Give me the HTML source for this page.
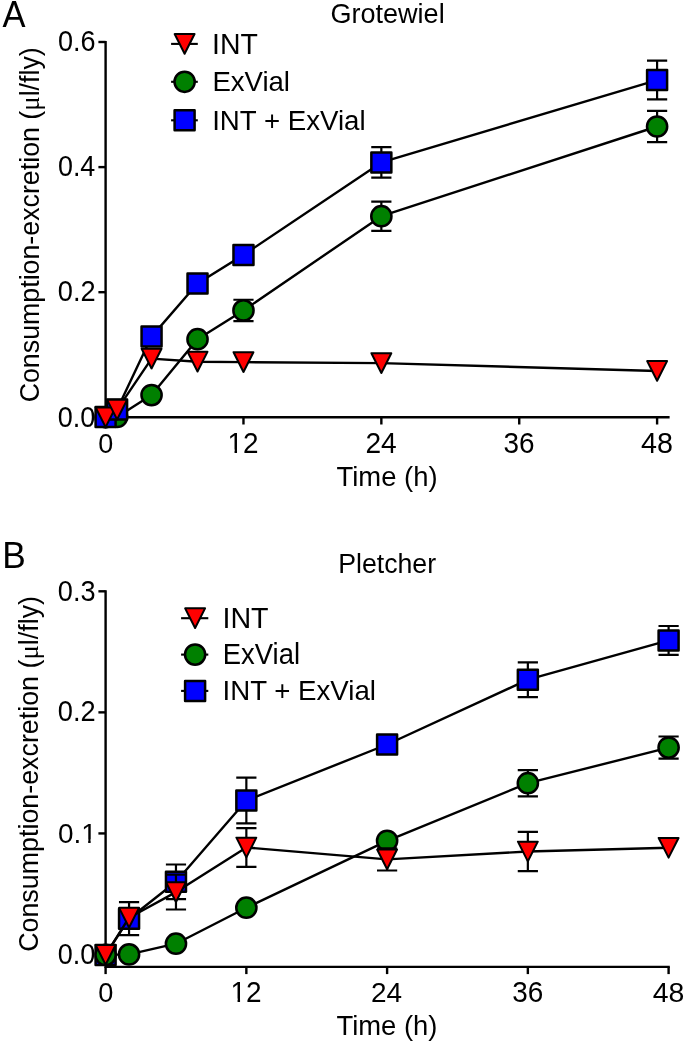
<!DOCTYPE html>
<html><head><meta charset="utf-8"><style>
html,body{margin:0;padding:0;background:#fff;width:685px;height:1043px;overflow:hidden}
svg{display:block;will-change:transform}
text{font-family:"Liberation Sans", sans-serif;fill:#000}
</style></head><body>
<svg width="685" height="1043" viewBox="0 0 685 1043">
<rect width="685" height="1043" fill="#fff"/>
<path d="M105.6,41.0V417.3H669.6" stroke="#000" stroke-width="2.4" fill="none" stroke-linejoin="miter"/><path d="M98.39999999999999,417.30H105.6" stroke="#000" stroke-width="2.4"/><path d="M98.39999999999999,292.20H105.6" stroke="#000" stroke-width="2.4"/><path d="M98.39999999999999,167.10H105.6" stroke="#000" stroke-width="2.4"/><path d="M98.39999999999999,42.00H105.6" stroke="#000" stroke-width="2.4"/><path d="M105.60,417.3V424.5" stroke="#000" stroke-width="2.4"/><path d="M243.47,417.3V424.5" stroke="#000" stroke-width="2.4"/><path d="M381.35,417.3V424.5" stroke="#000" stroke-width="2.4"/><path d="M519.23,417.3V424.5" stroke="#000" stroke-width="2.4"/><path d="M657.10,417.3V424.5" stroke="#000" stroke-width="2.4"/><path d="M243.47,299.75V321.05M233.38,299.75H253.57M233.38,321.05H253.57" stroke="#000" stroke-width="2.2" fill="none"/><path d="M381.35,201.55V230.85M371.25,201.55H391.45M371.25,230.85H391.45" stroke="#000" stroke-width="2.2" fill="none"/><path d="M657.10,110.80V142.20M647.00,110.80H667.20M647.00,142.20H667.20" stroke="#000" stroke-width="2.2" fill="none"/><path d="M105.60,417.30L117.09,417.00L151.56,395.10L197.52,339.20L243.47,310.40L381.35,216.20L657.10,126.50" stroke="#000" stroke-width="2.4" fill="none" stroke-linejoin="round"/><circle cx="105.60" cy="417.30" r="10.1" fill="#008000" stroke="#000" stroke-width="2.5"/><circle cx="117.09" cy="417.00" r="10.1" fill="#008000" stroke="#000" stroke-width="2.5"/><circle cx="151.56" cy="395.10" r="10.1" fill="#008000" stroke="#000" stroke-width="2.5"/><circle cx="197.52" cy="339.20" r="10.1" fill="#008000" stroke="#000" stroke-width="2.5"/><circle cx="243.47" cy="310.40" r="10.1" fill="#008000" stroke="#000" stroke-width="2.5"/><circle cx="381.35" cy="216.20" r="10.1" fill="#008000" stroke="#000" stroke-width="2.5"/><circle cx="657.10" cy="126.50" r="10.1" fill="#008000" stroke="#000" stroke-width="2.5"/><path d="M381.35,147.15V177.65M371.25,147.15H391.45M371.25,177.65H391.45" stroke="#000" stroke-width="2.2" fill="none"/><path d="M657.10,60.65V99.45M647.00,60.65H667.20M647.00,99.45H667.20" stroke="#000" stroke-width="2.2" fill="none"/><path d="M105.60,417.00L117.09,409.60L151.56,336.60L197.52,283.50L243.47,254.90L381.35,162.40L657.10,80.05" stroke="#000" stroke-width="2.4" fill="none" stroke-linejoin="round"/><rect x="95.60" y="407.00" width="20.00" height="20.00" fill="#0000ff" stroke="#000" stroke-width="2.5" stroke-linejoin="round"/><rect x="107.09" y="399.60" width="20.00" height="20.00" fill="#0000ff" stroke="#000" stroke-width="2.5" stroke-linejoin="round"/><rect x="141.56" y="326.60" width="20.00" height="20.00" fill="#0000ff" stroke="#000" stroke-width="2.5" stroke-linejoin="round"/><rect x="187.52" y="273.50" width="20.00" height="20.00" fill="#0000ff" stroke="#000" stroke-width="2.5" stroke-linejoin="round"/><rect x="233.47" y="244.90" width="20.00" height="20.00" fill="#0000ff" stroke="#000" stroke-width="2.5" stroke-linejoin="round"/><rect x="371.35" y="152.40" width="20.00" height="20.00" fill="#0000ff" stroke="#000" stroke-width="2.5" stroke-linejoin="round"/><rect x="647.10" y="70.05" width="20.00" height="20.00" fill="#0000ff" stroke="#000" stroke-width="2.5" stroke-linejoin="round"/><path d="M105.60,417.30L117.09,409.70L151.56,358.60L197.52,361.70L243.47,362.10L381.35,363.10L657.10,370.95" stroke="#000" stroke-width="2.4" fill="none" stroke-linejoin="round"/><path d="M95.65,407.45H115.55L105.60,427.15Z" fill="#ff0000" stroke="#000" stroke-width="2.0" stroke-linejoin="round"/><path d="M107.14,399.85H127.04L117.09,419.55Z" fill="#ff0000" stroke="#000" stroke-width="2.0" stroke-linejoin="round"/><path d="M141.61,348.75H161.51L151.56,368.45Z" fill="#ff0000" stroke="#000" stroke-width="2.0" stroke-linejoin="round"/><path d="M187.57,351.85H207.47L197.52,371.55Z" fill="#ff0000" stroke="#000" stroke-width="2.0" stroke-linejoin="round"/><path d="M233.53,352.25H253.42L243.47,371.95Z" fill="#ff0000" stroke="#000" stroke-width="2.0" stroke-linejoin="round"/><path d="M371.40,353.25H391.30L381.35,372.95Z" fill="#ff0000" stroke="#000" stroke-width="2.0" stroke-linejoin="round"/><path d="M647.15,361.10H667.05L657.10,380.80Z" fill="#ff0000" stroke="#000" stroke-width="2.0" stroke-linejoin="round"/><path d="M171.1,43.9H197.8" stroke="#000" stroke-width="2.1"/><path d="M174.65,34.05H194.55L184.60,53.75Z" fill="#ff0000" stroke="#000" stroke-width="2.0" stroke-linejoin="round"/><path d="M171.1,81.8H197.8" stroke="#000" stroke-width="2.1"/><circle cx="184.60" cy="81.80" r="10.1" fill="#008000" stroke="#000" stroke-width="2.5"/><path d="M171.1,120.3H197.8" stroke="#000" stroke-width="2.1"/><rect x="174.60" y="110.30" width="20.00" height="20.00" fill="#0000ff" stroke="#000" stroke-width="2.5" stroke-linejoin="round"/><path d="M105.6,590.3V966.9H669.8000000000001" stroke="#000" stroke-width="2.4" fill="none"/><path d="M98.39999999999999,954.50H105.6" stroke="#000" stroke-width="2.4"/><path d="M98.39999999999999,833.43H105.6" stroke="#000" stroke-width="2.4"/><path d="M98.39999999999999,712.37H105.6" stroke="#000" stroke-width="2.4"/><path d="M98.39999999999999,591.30H105.6" stroke="#000" stroke-width="2.4"/><path d="M105.60,966.9V974.1" stroke="#000" stroke-width="2.4"/><path d="M246.35,966.9V974.1" stroke="#000" stroke-width="2.4"/><path d="M387.10,966.9V974.1" stroke="#000" stroke-width="2.4"/><path d="M527.85,966.9V974.1" stroke="#000" stroke-width="2.4"/><path d="M668.60,966.9V974.1" stroke="#000" stroke-width="2.4"/><path d="M129.06,902.20V935.20M118.96,902.20H139.16M118.96,935.20H139.16" stroke="#000" stroke-width="2.2" fill="none"/><path d="M175.97,864.50V899.10M165.88,864.50H186.07M165.88,899.10H186.07" stroke="#000" stroke-width="2.2" fill="none"/><path d="M246.35,777.70V823.30M236.25,777.70H256.45M236.25,823.30H256.45" stroke="#000" stroke-width="2.2" fill="none"/><path d="M527.85,662.30V697.10M517.75,662.30H537.95M517.75,697.10H537.95" stroke="#000" stroke-width="2.2" fill="none"/><path d="M668.60,626.00V654.80M658.50,626.00H678.70M658.50,654.80H678.70" stroke="#000" stroke-width="2.2" fill="none"/><path d="M105.60,954.90L129.06,918.70L175.97,881.80L246.35,800.50L387.10,744.50L527.85,679.70L668.60,640.40" stroke="#000" stroke-width="2.4" fill="none" stroke-linejoin="round"/><rect x="95.60" y="944.90" width="20.00" height="20.00" fill="#0000ff" stroke="#000" stroke-width="2.5" stroke-linejoin="round"/><rect x="119.06" y="908.70" width="20.00" height="20.00" fill="#0000ff" stroke="#000" stroke-width="2.5" stroke-linejoin="round"/><rect x="165.97" y="871.80" width="20.00" height="20.00" fill="#0000ff" stroke="#000" stroke-width="2.5" stroke-linejoin="round"/><rect x="236.35" y="790.50" width="20.00" height="20.00" fill="#0000ff" stroke="#000" stroke-width="2.5" stroke-linejoin="round"/><rect x="377.10" y="734.50" width="20.00" height="20.00" fill="#0000ff" stroke="#000" stroke-width="2.5" stroke-linejoin="round"/><rect x="517.85" y="669.70" width="20.00" height="20.00" fill="#0000ff" stroke="#000" stroke-width="2.5" stroke-linejoin="round"/><rect x="658.60" y="630.40" width="20.00" height="20.00" fill="#0000ff" stroke="#000" stroke-width="2.5" stroke-linejoin="round"/><path d="M527.85,770.10V796.30M517.75,770.10H537.95M517.75,796.30H537.95" stroke="#000" stroke-width="2.2" fill="none"/><path d="M668.60,736.50V758.70M658.50,736.50H678.70M658.50,758.70H678.70" stroke="#000" stroke-width="2.2" fill="none"/><path d="M105.60,954.90L129.06,954.40L175.97,943.70L246.35,907.70L387.10,840.80L527.85,783.20L668.60,747.60" stroke="#000" stroke-width="2.4" fill="none" stroke-linejoin="round"/><circle cx="105.60" cy="954.90" r="10.1" fill="#008000" stroke="#000" stroke-width="2.5"/><circle cx="129.06" cy="954.40" r="10.1" fill="#008000" stroke="#000" stroke-width="2.5"/><circle cx="175.97" cy="943.70" r="10.1" fill="#008000" stroke="#000" stroke-width="2.5"/><circle cx="246.35" cy="907.70" r="10.1" fill="#008000" stroke="#000" stroke-width="2.5"/><circle cx="387.10" cy="840.80" r="10.1" fill="#008000" stroke="#000" stroke-width="2.5"/><circle cx="527.85" cy="783.20" r="10.1" fill="#008000" stroke="#000" stroke-width="2.5"/><circle cx="668.60" cy="747.60" r="10.1" fill="#008000" stroke="#000" stroke-width="2.5"/><path d="M175.97,874.70V909.50M165.88,874.70H186.07M165.88,909.50H186.07" stroke="#000" stroke-width="2.2" fill="none"/><path d="M246.35,828.15V866.85M236.25,828.15H256.45M236.25,866.85H256.45" stroke="#000" stroke-width="2.2" fill="none"/><path d="M387.10,848.30V870.50M377.00,848.30H397.20M377.00,870.50H397.20" stroke="#000" stroke-width="2.2" fill="none"/><path d="M527.85,831.90V871.10M517.75,831.90H537.95M517.75,871.10H537.95" stroke="#000" stroke-width="2.2" fill="none"/><path d="M105.60,954.90L129.06,917.70L175.97,892.10L246.35,847.50L387.10,859.40L527.85,851.50L668.60,847.80" stroke="#000" stroke-width="2.4" fill="none" stroke-linejoin="round"/><path d="M95.65,945.05H115.55L105.60,964.75Z" fill="#ff0000" stroke="#000" stroke-width="2.0" stroke-linejoin="round"/><path d="M119.11,907.85H139.01L129.06,927.55Z" fill="#ff0000" stroke="#000" stroke-width="2.0" stroke-linejoin="round"/><path d="M166.03,882.25H185.92L175.97,901.95Z" fill="#ff0000" stroke="#000" stroke-width="2.0" stroke-linejoin="round"/><path d="M236.40,837.65H256.30L246.35,857.35Z" fill="#ff0000" stroke="#000" stroke-width="2.0" stroke-linejoin="round"/><path d="M377.15,849.55H397.05L387.10,869.25Z" fill="#ff0000" stroke="#000" stroke-width="2.0" stroke-linejoin="round"/><path d="M517.90,841.65H537.80L527.85,861.35Z" fill="#ff0000" stroke="#000" stroke-width="2.0" stroke-linejoin="round"/><path d="M658.65,837.95H678.55L668.60,857.65Z" fill="#ff0000" stroke="#000" stroke-width="2.0" stroke-linejoin="round"/><path d="M181.1,618.2H208.3" stroke="#000" stroke-width="2.1"/><path d="M185.15,608.35H205.05L195.10,628.05Z" fill="#ff0000" stroke="#000" stroke-width="2.0" stroke-linejoin="round"/><path d="M181.1,654.6H208.3" stroke="#000" stroke-width="2.1"/><circle cx="195.10" cy="654.60" r="10.1" fill="#008000" stroke="#000" stroke-width="2.5"/><path d="M181.1,690.9H208.3" stroke="#000" stroke-width="2.1"/><rect x="185.10" y="680.90" width="20.00" height="20.00" fill="#0000ff" stroke="#000" stroke-width="2.5" stroke-linejoin="round"/><g transform="translate(2.400,2.000) scale(0.9583,1.0020) translate(-100.000,-375.250)"><text x="100" y="400" font-size="36">A</text></g><g transform="translate(5.300,543.000) scale(0.9789,1.0101) translate(-103.000,-375.250)"><text x="100" y="400" font-size="36">B</text></g><g transform="translate(331.900,2.600) scale(0.9661,1.0195) translate(-101.500,-379.750)"><text x="100" y="400" font-size="28">Grotewiel</text></g><g transform="translate(340.300,552.300) scale(0.9540,1.0146) translate(-102.250,-379.750)"><text x="100" y="400" font-size="28">Pletcher</text></g><g transform="translate(337.200,465.700) scale(0.9797,1.0038) translate(-100.750,-379.750)"><text x="100" y="400" font-size="28">Time (h)</text></g><g transform="translate(337.200,1015.100) scale(0.9797,1.0000) translate(-100.750,-379.750)"><text x="100" y="400" font-size="28">Time (h)</text></g><g transform="translate(18.900,48.800) scale(0.9829,0.9567) translate(-379.750,-216.000)"><text x="0" y="0" font-size="28" transform="translate(400,400) rotate(-90)" text-anchor="middle">Consumption-excretion (<tspan style="font-family:'Liberation Serif'">&#956;</tspan>l/fly)</text></g><g transform="translate(17.600,597.600) scale(1.0057,0.9583) translate(-379.750,-216.000)"><text x="0" y="0" font-size="28" transform="translate(400,400) rotate(-90)" text-anchor="middle">Consumption-excretion (<tspan style="font-family:'Liberation Serif'">&#956;</tspan>l/fly)</text></g><g transform="translate(214.600,33.300) scale(1.0167,1.0545) translate(-102.500,-380.750)"><text x="100" y="400" font-size="28">INT</text></g><g transform="translate(214.600,70.700) scale(0.9846,0.9951) translate(-102.250,-379.750)"><text x="100" y="400" font-size="28">ExVial</text></g><g transform="translate(214.600,109.100) scale(0.9887,1.0146) translate(-102.500,-379.750)"><text x="100" y="400" font-size="28">INT + ExVial</text></g><g transform="translate(225.000,607.200) scale(1.0238,1.0753) translate(-102.500,-380.750)"><text x="100" y="400" font-size="28">INT</text></g><g transform="translate(225.000,643.400) scale(0.9793,1.0244) translate(-102.250,-379.750)"><text x="100" y="400" font-size="28">ExVial</text></g><g transform="translate(225.000,680.100) scale(0.9881,0.9805) translate(-102.500,-379.750)"><text x="100" y="400" font-size="28">INT + ExVial</text></g><g transform="translate(58.900,31.000) scale(0.9660,1.0456) translate(-101.000,-380.500)"><text x="100" y="400" font-size="28">0.6</text></g><g transform="translate(58.900,156.200) scale(0.9611,1.0329) translate(-101.000,-380.500)"><text x="100" y="400" font-size="28">0.4</text></g><g transform="translate(58.800,281.200) scale(0.9726,1.0329) translate(-101.000,-380.500)"><text x="100" y="400" font-size="28">0.2</text></g><g transform="translate(58.800,406.600) scale(0.9660,1.0278) translate(-101.000,-380.500)"><text x="100" y="400" font-size="28">0.0</text></g><g transform="translate(58.800,580.600) scale(0.9687,1.0228) translate(-101.000,-380.500)"><text x="100" y="400" font-size="28">0.3</text></g><g transform="translate(58.800,701.200) scale(0.9726,1.0329) translate(-101.000,-380.500)"><text x="100" y="400" font-size="28">0.2</text></g><g transform="translate(58.900,822.900) scale(0.9969,1.0127) translate(-101.000,-380.500)"><text x="100" y="400" font-size="28">0.1</text><rect x="124.15" y="396.60" width="6.20" height="5.00" fill="#fff"/><rect x="132.85" y="396.60" width="5.90" height="5.00" fill="#fff"/></g><g transform="translate(58.800,943.800) scale(0.9660,1.0228) translate(-101.000,-380.500)"><text x="100" y="400" font-size="28">0.0</text></g><g transform="translate(99.200,432.900) scale(0.9630,1.0076) translate(-101.000,-380.500)"><text x="100" y="400" font-size="28">0</text></g><g transform="translate(230.300,432.800) scale(0.9963,1.0359) translate(-102.750,-380.500)"><text x="100" y="400" font-size="28">12</text><rect x="100.80" y="396.60" width="6.20" height="5.00" fill="#fff"/><rect x="109.50" y="396.60" width="5.90" height="5.00" fill="#fff"/></g><g transform="translate(366.900,432.600) scale(1.0052,1.0410) translate(-101.500,-380.500)"><text x="100" y="400" font-size="28">24</text></g><g transform="translate(504.600,432.600) scale(0.9966,1.0481) translate(-101.000,-380.500)"><text x="100" y="400" font-size="28">36</text></g><g transform="translate(641.800,432.800) scale(1.0256,1.0278) translate(-100.750,-380.500)"><text x="100" y="400" font-size="28">48</text></g><g transform="translate(99.200,982.200) scale(0.9704,1.0177) translate(-101.000,-380.500)"><text x="100" y="400" font-size="28">0</text></g><g transform="translate(233.300,982.000) scale(1.0000,1.0308) translate(-102.750,-380.500)"><text x="100" y="400" font-size="28">12</text><rect x="100.80" y="396.60" width="6.20" height="5.00" fill="#fff"/><rect x="109.50" y="396.60" width="5.90" height="5.00" fill="#fff"/></g><g transform="translate(372.400,982.100) scale(0.9983,1.0154) translate(-101.500,-380.500)"><text x="100" y="400" font-size="28">24</text></g><g transform="translate(513.200,981.900) scale(0.9966,1.0481) translate(-101.000,-380.500)"><text x="100" y="400" font-size="28">36</text></g><g transform="translate(653.500,982.300) scale(1.0154,1.0177) translate(-100.750,-380.500)"><text x="100" y="400" font-size="28">48</text></g>
</svg>
</body></html>
